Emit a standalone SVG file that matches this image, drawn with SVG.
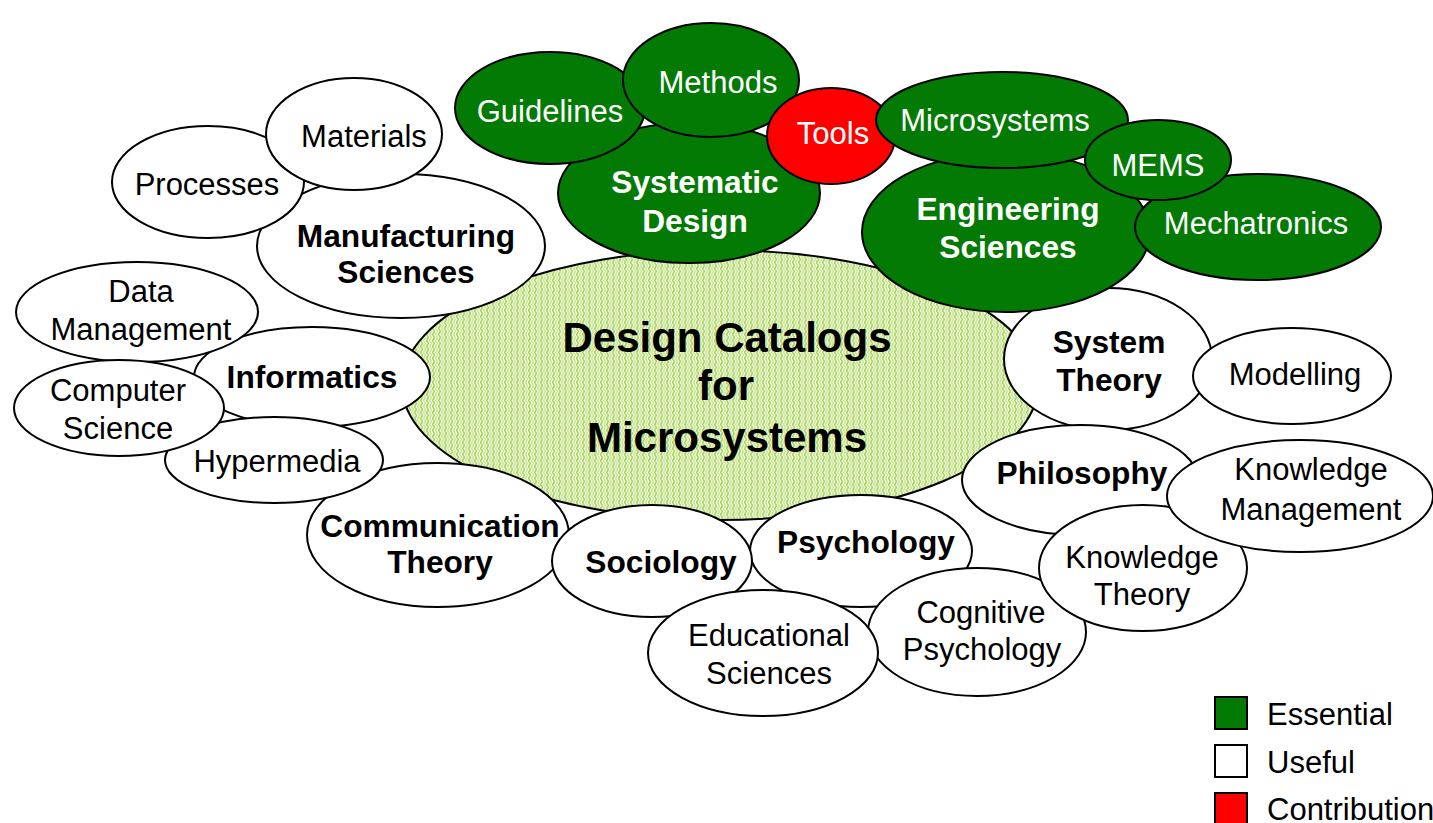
<svg xmlns="http://www.w3.org/2000/svg" width="1433" height="823" viewBox="0 0 1433 823">
<style>
.n{stroke:#000;stroke-width:2}
.u{fill:#fff}
.e{fill:#037a03}
.c{fill:#ff0000}
text{font-family:"Liberation Sans",Arial,Helvetica,sans-serif;font-size:31px;text-anchor:middle;fill:#000}
.b{font-weight:bold;font-size:31.7px}
.w{fill:#fff}
.big{font-size:42px;font-weight:bold}
.lg{text-anchor:start}
</style>
<defs>
<pattern id="stripes" width="6" height="6" patternUnits="userSpaceOnUse">
<rect width="6" height="6" fill="#eef7da"/>
<path d="M1.5 0 Q3 1.5 1.5 3 Q0 4.5 1.5 6" fill="none" stroke="#a2d254" stroke-width="1.4"/>
<path d="M4.5 0 Q6 1.5 4.5 3 Q3 4.5 4.5 6" fill="none" stroke="#c4e48c" stroke-width="1.2"/>
</pattern>
</defs>
<rect width="1433" height="823" fill="#fff"/>
<g id="connectors"></g>
<g id="center"><ellipse class="n" cx="720" cy="385" rx="318" ry="135" fill="url(#stripes)"/>
<text class="big" x="727" y="352">Design Catalogs</text><text class="big" x="726" y="400">for</text><text class="big" x="727" y="452">Microsystems</text></g>
<g id="system-theory"><ellipse class="n u" cx="1108" cy="359" rx="104" ry="71"/><text class="b" x="1109" y="353">System</text><text class="b" x="1109" y="391">Theory</text></g>
<g id="modelling"><ellipse class="n u" cx="1292" cy="376" rx="99" ry="48"/><text x="1295" y="385">Modelling</text></g>
<g id="philosophy"><ellipse class="n u" cx="1080" cy="480" rx="118" ry="55"/><text class="b" x="1082" y="484">Philosophy</text></g>
<g id="psychology"><ellipse class="n u" cx="861" cy="551" rx="111" ry="56"/><text class="b" x="866" y="553">Psychology</text></g>
<g id="cognitive-psychology"><ellipse class="n u" cx="977" cy="632" rx="109" ry="64"/><text x="981" y="623">Cognitive</text><text x="982" y="660">Psychology</text></g>
<g id="knowledge-theory"><ellipse class="n u" cx="1143" cy="568" rx="104" ry="63"/><text x="1142" y="568">Knowledge</text><text x="1142" y="605">Theory</text></g>
<g id="knowledge-management"><ellipse class="n u" cx="1300" cy="496" rx="133" ry="56"/><text x="1311" y="480">Knowledge</text><text x="1311" y="520">Management</text></g>
<g id="communication-theory"><ellipse class="n u" cx="438" cy="535" rx="131" ry="72"/><text class="b" x="440" y="537">Communication</text><text class="b" x="440" y="573">Theory</text></g>
<g id="sociology"><ellipse class="n u" cx="652" cy="561" rx="100" ry="56"/><text class="b" x="661" y="573">Sociology</text></g>
<g id="educational-sciences"><ellipse class="n u" cx="763" cy="653" rx="115" ry="63"/><text x="769" y="646">Educational</text><text x="769" y="684">Sciences</text></g>
<g id="informatics"><ellipse class="n u" cx="312" cy="377" rx="118" ry="50"/><text class="b" x="312" y="388">Informatics</text></g>
<g id="data-management"><ellipse class="n u" cx="137" cy="312" rx="121" ry="50"/><text x="141" y="302">Data</text><text x="141" y="340">Management</text></g>
<g id="hypermedia"><ellipse class="n u" cx="274" cy="460" rx="109" ry="43"/><text x="277" y="472">Hypermedia</text></g>
<g id="computer-science"><ellipse class="n u" cx="119" cy="408" rx="105" ry="48"/><text x="118" y="401">Computer</text><text x="118" y="439">Science</text></g>
<g id="manufacturing-sciences"><ellipse class="n u" cx="401" cy="246" rx="144" ry="72"/><text class="b" x="406" y="247">Manufacturing</text><text class="b" x="406" y="283">Sciences</text></g>
<g id="processes"><ellipse class="n u" cx="208" cy="182" rx="96" ry="56"/><text x="207" y="195">Processes</text></g>
<g id="materials"><ellipse class="n u" cx="354" cy="134" rx="88" ry="56"/><text x="364" y="147">Materials</text></g>
<g id="systematic-design"><ellipse class="n e" cx="689" cy="193" rx="131" ry="70"/><text class="b w" x="695" y="193">Systematic</text><text class="b w" x="695" y="232">Design</text></g>
<g id="guidelines"><ellipse class="n e" cx="550" cy="108" rx="95" ry="56"/><text class="w" x="550" y="122">Guidelines</text></g>
<g id="methods"><ellipse class="n e" cx="711" cy="80" rx="88" ry="57"/><text class="w" x="718" y="93">Methods</text></g>
<g id="tools"><ellipse class="n c" cx="831" cy="136" rx="64" ry="48"/><text class="w" x="833" y="144">Tools</text></g>
<g id="engineering-sciences"><ellipse class="n e" cx="1006" cy="232" rx="144" ry="80"/><text class="b w" x="1008" y="220">Engineering</text><text class="b w" x="1008" y="258">Sciences</text></g>
<g id="mechatronics"><ellipse class="n e" cx="1258" cy="227" rx="123" ry="53"/><text class="w" x="1256" y="234">Mechatronics</text></g>
<g id="microsystems"><ellipse class="n e" cx="1002" cy="120" rx="126" ry="48"/><text class="w" x="995" y="131">Microsystems</text></g>
<g id="mems"><ellipse class="n e" cx="1158" cy="160" rx="73" ry="40"/><text class="w" x="1158" y="176">MEMS</text></g>
<g id="legend">
<rect class="n e" x="1215" y="697" width="32" height="32"/><text class="lg" x="1267" y="725">Essential</text>
<rect class="n u" x="1215" y="745" width="32" height="32"/><text class="lg" x="1267" y="773">Useful</text>
<rect class="n c" x="1215" y="793" width="32" height="32"/><text class="lg" x="1267" y="820">Contribution</text>
</g>
</svg>
